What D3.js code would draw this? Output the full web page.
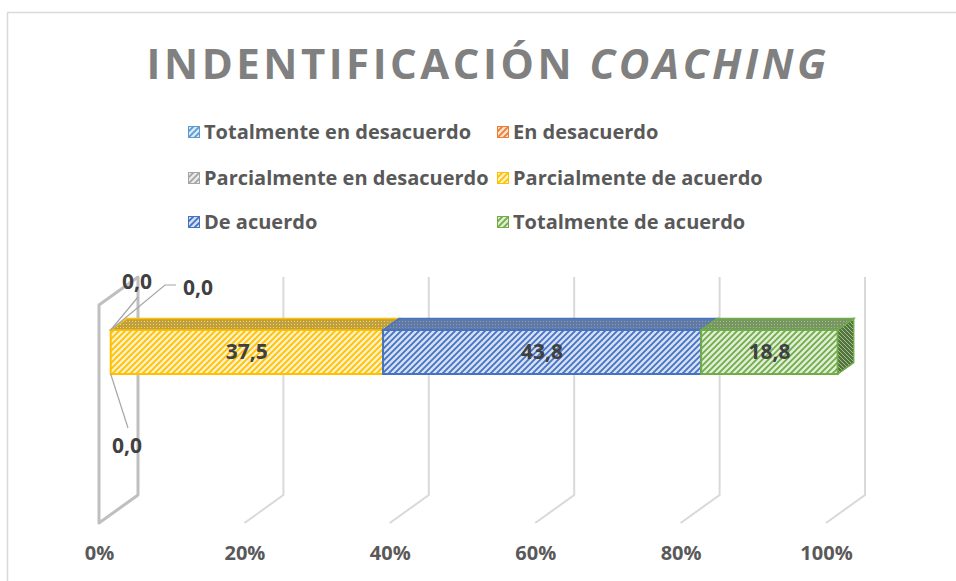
<!DOCTYPE html>
<html>
<head>
<meta charset="utf-8">
<script src="https://cdn.jsdelivr.net/npm/d3@7"></script>
<style>
  body { margin: 0; background: #fff; }
  text { font-family: "Open Sans", "Noto Sans", sans-serif; font-weight: bold; }
</style>
</head>
<body>
<div id="container"></div>
<script>
/* DATA */
const categories = ["Indentificación coaching"];
const seriesNames = ["Totalmente en desacuerdo", "En desacuerdo", "Parcialmente en desacuerdo",
                     "Parcialmente de acuerdo", "De acuerdo", "Totalmente de acuerdo"];
const seriesValues = [0, 0, 0, 37.5, 43.8, 18.8];
const seriesColors = ["#5b9bd5", "#ed7d31", "#a5a5a5", "#ffc000", "#4472c4", "#70ad47"];
const tickValues = [0, 0.2, 0.4, 0.6, 0.8, 1];

/* CONSTANTS */
const width = 956,
      height = 581;
const floorY = 523,      // front floor line
      wallTop = 305,     // front top of the side wall
      depthX = 39, depthY = -28,
      barFront = 0.3, barBack = 0.71,
      barTopY = 330, barBottomY = 374;

const svg = d3.select("#container")
  .append("svg")
  .attr("width", width)
  .attr("height", height);

// chart border
svg.append("rect")
  .attr("x", 7.5).attr("y", 12.5)
  .attr("width", 1000).attr("height", 700)
  .attr("fill", "none").attr("stroke", "#d9d9d9").attr("stroke-width", 1.5);

/* PATTERNS */
const defs = svg.append("defs");
seriesColors.forEach(function(c, i) {
  const light = d3.interpolateRgb(c, "#fff")(0.78);
  const front = defs.append("pattern")
    .attr("id", "front" + i).attr("patternUnits", "userSpaceOnUse")
    .attr("width", 6).attr("height", 6);
  front.append("rect").attr("width", 6).attr("height", 6).attr("fill", light);
  front.append("path").attr("d", "M0,6L6,0M-1,1L1,-1M5,7L7,5")
    .attr("stroke", c).attr("stroke-width", 1.8);

  const dark = d3.interpolateRgb(c, "#7f7f7f")(0.5);
  const top = defs.append("pattern")
    .attr("id", "top" + i).attr("patternUnits", "userSpaceOnUse")
    .attr("width", 3).attr("height", 3);
  top.append("rect").attr("width", 3).attr("height", 3).attr("fill", dark);
  top.append("rect").attr("width", 1).attr("height", 1).attr("fill", d3.interpolateRgb(c, "#fff")(0.3));

  const side = defs.append("pattern")
    .attr("id", "side" + i).attr("patternUnits", "userSpaceOnUse")
    .attr("width", 4).attr("height", 4);
  side.append("rect").attr("width", 4).attr("height", 4).attr("fill", d3.interpolateRgb(c, "#404040")(0.55));
  side.append("path").attr("d", "M0,0L4,4M-1,3L1,5M3,-1L5,1")
    .attr("stroke", d3.interpolateRgb(c, "#fff")(0.3)).attr("stroke-width", 1);
});

/* SCALES */
const xScale = d3.scaleLinear().domain([0, 1]).range([99, 826]);
function pt(v, d, y) {
  return [xScale(v) + d * depthX, y + d * depthY];
}

/* TITLE */
const title = svg.append("text")
  .attr("x", 488).attr("y", 79)
  .attr("text-anchor", "middle")
  .attr("fill", "#808080")
  .style("font-size", "42px")
  .style("letter-spacing", "3.5px");
title.append("tspan").text("INDENTIFICACIÓN ");
title.append("tspan").style("font-style", "italic").text("COACHING");

/* LEGEND */
const legendPos = [[188, 132], [497, 132], [188, 178], [497, 178], [188, 222], [497, 222]];
const legend = svg.append("g").selectAll("g")
  .data(seriesNames).enter().append("g")
  .attr("transform", function(d, i) { return "translate(" + legendPos[i][0] + "," + legendPos[i][1] + ")"; });
legend.append("rect")
  .attr("x", 0.5).attr("y", -5.5).attr("width", 11).attr("height", 11)
  .attr("fill", function(d, i) { return "url(#front" + i + ")"; })
  .attr("stroke", function(d, i) { return seriesColors[i]; });
legend.append("text")
  .attr("x", 16).attr("dy", "0.35em")
  .attr("fill", "#595959")
  .style("font-size", "20px")
  .text(function(d) { return d; });

/* WALL AND GRIDLINES */
const line = d3.line();
tickValues.slice(1).forEach(function(t) {
  svg.append("path")
    .attr("d", line([pt(t, 1, wallTop), pt(t, 1, floorY), pt(t, 0, floorY)]))
    .attr("fill", "none").attr("stroke", "#d9d9d9").attr("stroke-width", 2);
});
svg.append("path")
  .attr("d", line([pt(0, 0, wallTop), pt(0, 0, floorY), pt(0, 1, floorY), pt(0, 1, wallTop)]) + "Z")
  .attr("fill", "none").attr("stroke", "#bfbfbf").attr("stroke-width", 3)
  .attr("stroke-linejoin", "round");

/* BARS */
const row = {};
seriesNames.forEach(function(s, i) { row[s] = seriesValues[i]; });
const stacked = d3.stack().keys(seriesNames).offset(d3.stackOffsetExpand)([row]);

const frontTop = barTopY - barFront * depthY,
      frontBottom = barBottomY - barFront * depthY;
const bars = svg.append("g");
stacked.forEach(function(layer, i) {
  const x0 = layer[0][0], x1 = layer[0][1];
  if (x1 - x0 <= 0) return;
  // front face
  bars.append("path")
    .attr("d", line([pt(x0, barFront, frontTop), pt(x1, barFront, frontTop),
                     pt(x1, barFront, frontBottom), pt(x0, barFront, frontBottom)]) + "Z")
    .attr("fill", "url(#front" + i + ")").attr("stroke", seriesColors[i]).attr("stroke-width", 2);
  // top face
  bars.append("path")
    .attr("d", line([pt(x0, barFront, frontTop), pt(x1, barFront, frontTop),
                     pt(x1, barBack, frontTop), pt(x0, barBack, frontTop)]) + "Z")
    .attr("fill", "url(#top" + i + ")").attr("stroke", seriesColors[i]).attr("stroke-width", 1.5);
  // right side of the last segment
  if (x1 >= 1) {
    bars.append("path")
      .attr("d", line([pt(x1, barFront, frontTop), pt(x1, barBack, frontTop),
                       pt(x1, barBack, frontBottom), pt(x1, barFront, frontBottom)]) + "Z")
      .attr("fill", "url(#side" + i + ")").attr("stroke", seriesColors[i]).attr("stroke-width", 1.5);
  }
  if (seriesValues[i] > 0) {
    bars.append("text")
      .attr("x", (xScale(x0) + xScale(x1)) / 2 + barFront * depthX)
      .attr("y", (barTopY + barBottomY) / 2)
      .attr("dy", "0.35em").attr("text-anchor", "middle")
      .attr("fill", "#404040").style("font-size", "21px")
      .text(d3.format(".1f")(seriesValues[i]).replace(".", ","));
  }
});

/* ZERO LABELS WITH LEADERS */
const corner = pt(0, barFront, frontTop);
const cornerLow = pt(0, barFront, frontBottom);
const zeroLabels = [
  {pos: [137, 282], leader: [corner, [138, 297]]},
  {pos: [198, 288], leader: [corner, [165, 285], [176, 285]]},
  {pos: [127, 446], leader: [cornerLow, [128, 428]]}
];
seriesValues.slice(0, 3).forEach(function(v, i) {
  const z = zeroLabels[i];
  svg.append("path").attr("d", line(z.leader))
    .attr("fill", "none").attr("stroke", "#a6a6a6").attr("stroke-width", 1.2);
  svg.append("text")
    .attr("x", z.pos[0]).attr("y", z.pos[1]).attr("dy", "0.35em")
    .attr("text-anchor", "middle").attr("fill", "#404040").style("font-size", "21px")
    .text(d3.format(".1f")(v).replace(".", ","));
});

/* AXIS */
const xAxis = d3.axisBottom(xScale).tickValues(tickValues)
  .tickFormat(d3.format(".0%")).tickSize(0).tickPadding(0);
const axisG = svg.append("g").attr("transform", "translate(0,553)").call(xAxis);
axisG.select(".domain").remove();
axisG.selectAll("text")
  .attr("y", 0).attr("dy", "0.35em")
  .attr("fill", "#595959")
  .style("font-size", "20px").style("font-family", "'Open Sans', sans-serif").style("font-weight", "bold");
</script>
</body>
</html>
